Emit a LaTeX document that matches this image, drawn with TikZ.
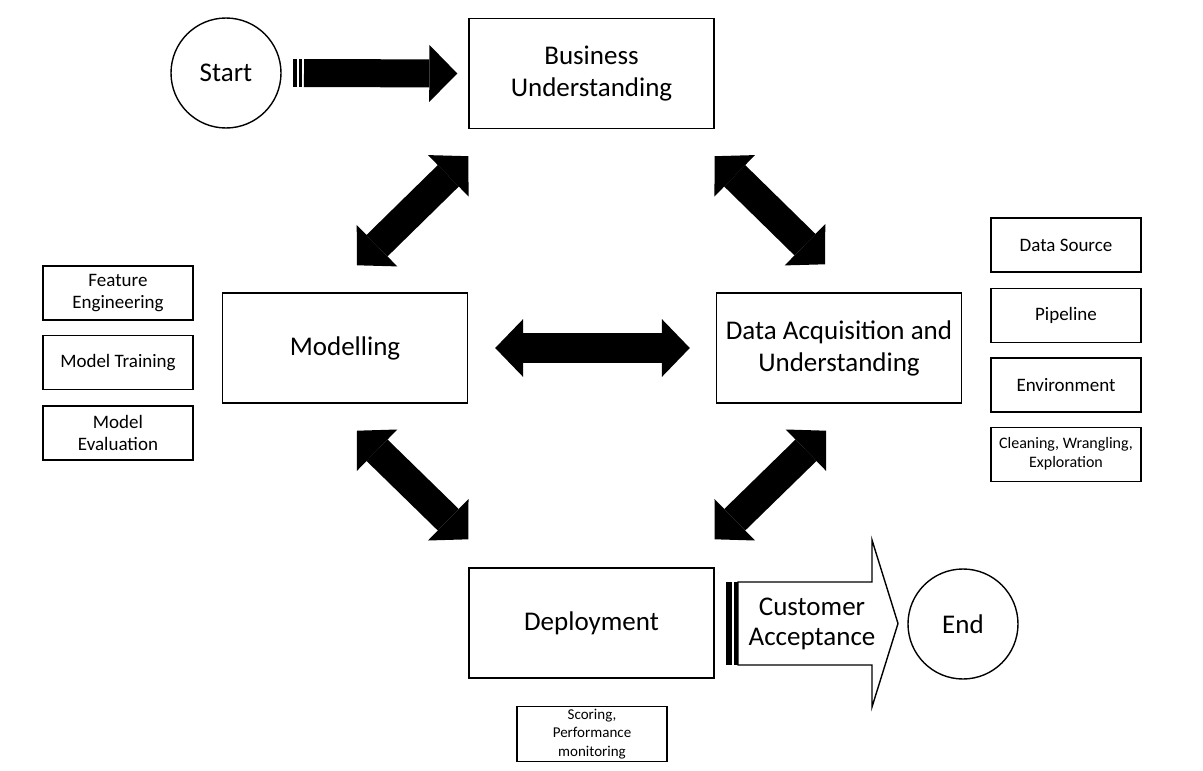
\documentclass[tikz,border=0pt]{standalone}
\usepackage{fontspec}
\setmainfont{Carlito}
\usetikzlibrary{positioning,arrows.meta}

\begin{document}
\begin{tikzpicture}[x=1pt,y=-1pt,
stage/.style={draw,line width=1.4pt,rectangle,minimum width=245pt,minimum height=110pt,inner sep=0pt,align=center,font=\fontsize{27}{32}\selectfont},
task/.style={draw,line width=1.4pt,rectangle,minimum width=150pt,minimum height=54pt,inner sep=0pt,align=center,font=\fontsize{19}{22.5}\selectfont},
term/.style={draw,line width=1.4pt,circle,minimum size=110pt,inner sep=0pt,font=\fontsize{27}{32}\selectfont},
link/.style={line width=30pt,{Triangle[length=28pt,width=58pt,line width=0pt]}-{Triangle[length=28pt,width=58pt,line width=0pt]}},
startlink/.style={line width=28pt,-{Triangle[length=28pt,width=57pt,line width=0pt]}}]
\useasboundingbox (0,0) rectangle (1203,771);

% stages
\node (start) [term] at (226,73) {Start};
\node (bu) [stage] at (591.5,73.5) {Business\\Understanding};
\node (mod) [stage] at (345,348) {Modelling};
\node (daq) [stage] at (839,348) {Data Acquisition and\\Understanding};
\node (dep) [stage] at (591.5,623) {Deployment};
\node (finish) [term] at (963,624) {End};

% tasks
\node (fe) [task] at (118,293) {Feature\\Engineering};
\node (mt) [task,below=14pt of fe] {Model Training};
\node (me) [task,below=15pt of mt] {Model\\Evaluation};
\node (ds) [task] at (1066,245) {Data Source};
\node (pl) [task,below=15pt of ds] {Pipeline};
\node (env) [task,below=14pt of pl] {Environment};
\node (cwe) [task,below=14pt of env,font=\fontsize{16}{19}\selectfont] {Cleaning, Wrangling,\\Exploration};
\node (sp) [task,minimum height=55pt,font=\fontsize{15}{18.5}\selectfont] at (592,734) {Scoring,\\Performance\\monitoring};

% arrows
\fill ([xshift=11pt,yshift=14pt]start.east) rectangle ([xshift=15.7pt,yshift=-14pt]start.east);
\fill ([xshift=17.3pt,yshift=14pt]start.east) rectangle ([xshift=20.7pt,yshift=-14pt]start.east);
\draw[startlink] ([xshift=22.3pt]start.east) -- ([xshift=-11pt]bu.west);
\draw[link] ([yshift=-27pt]bu.south west) -- ([xshift=12pt,yshift=27pt]mod.north);
\draw[link] ([yshift=-27pt]bu.south east) -- ([xshift=-14pt,yshift=28pt]daq.north);
\draw[link] ([xshift=27pt]mod.east) -- ([xshift=-26pt]daq.west);
\draw[link] ([xshift=12pt,yshift=-27pt]mod.south) -- ([yshift=28pt]dep.north west);
\draw[link] ([xshift=-13pt,yshift=-27pt]daq.south) -- ([yshift=28pt]dep.north east);

\node (accept) [font=\fontsize{27}{30}\selectfont,align=center] at (812,623.5) {Customer\\Acceptance};
\begin{scope}[shift={(accept)}]
\fill (-86,-41.5) rectangle (-80,41.5);
\fill (-78,-41.5) rectangle (-74,41.5);
\draw[line width=1.4pt,line join=miter] (-74,-41.5) -- (60,-41.5) -- (60,-83.5) -- (86,0) -- (60,83.5) -- (60,41.5) -- (-74,41.5) -- cycle;
\end{scope}
\end{tikzpicture}
\end{document}
